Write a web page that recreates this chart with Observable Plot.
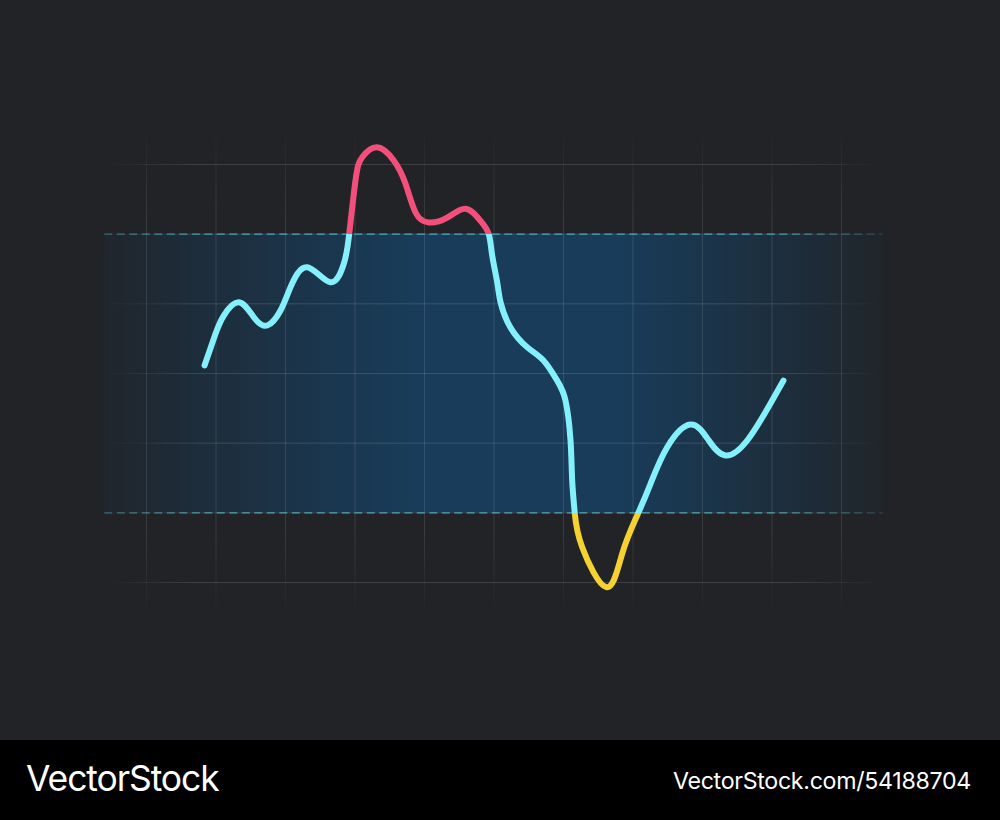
<!DOCTYPE html>
<html>
<head>
<meta charset="utf-8">
<script src="https://cdn.jsdelivr.net/npm/d3@7"></script>
<script src="https://cdn.jsdelivr.net/npm/@observablehq/plot@0.6"></script>
<style>
  html, body { margin: 0; padding: 0; background: #212326; }
  #chart svg { display: block; }
  #footer { width: 1000px; height: 80px; background: #000; position: relative; font-family: Inter, "Liberation Sans", sans-serif; color: #fff; }
  #footer .l { position: absolute; left: 26px; top: 17px; font-size: 35.5px; letter-spacing: -1.1px; }
  #footer .r { position: absolute; right: 29px; top: 27px; font-size: 23.2px; letter-spacing: -0.3px; }
</style>
</head>
<body>
<div id="chart"></div>
<div id="footer"><span class="l">VectorStock</span><span class="r">VectorStock.com/54188704</span></div>
<script>
// ---- data ----
const lineX = [0.835, 0.993, 1.112, 1.328, 1.544, 1.737, 1.928, 2.072, 2.312, 2.647, 2.839, 2.911, 3.007, 3.104, 3.319, 3.558, 3.727, 3.871, 4.062, 4.327, 4.590, 4.806, 4.925, 4.974, 5.046, 5.094, 5.237, 5.482, 5.712, 5.909, 6.029, 6.101, 6.125, 6.163, 6.269, 6.614, 6.845, 7.060, 7.252, 7.492, 7.827, 8.091, 8.331, 8.643, 8.978, 9.165];
const lineY = [3.115, 3.570, 3.832, 4.023, 3.808, 3.689, 3.904, 4.239, 4.526, 4.310, 4.575, 4.956, 5.770, 6.105, 6.248, 6.057, 5.723, 5.311, 5.167, 5.238, 5.364, 5.191, 5.000, 4.694, 4.310, 4.023, 3.660, 3.373, 3.186, 2.899, 2.612, 2.038, 1.464, 0.986, 0.507, -0.067, 0.416, 0.962, 1.417, 1.942, 2.268, 2.038, 1.823, 2.038, 2.569, 2.899];
const gridX = [0, 1, 2, 3, 4, 5, 6, 7, 8, 9, 10];
const gridY = [0, 1, 2, 3, 4, 5, 6];
const band = [1, 5];           // normal range (dashed limits)
const xExtent = [-0.6, 10.6];  // grid horizontal extent
const yExtent = [-0.48, 6.5];  // grid vertical extent

const points = lineX.map((x, i) => ({x, y: lineY[i]}));

const W = 1000, H = 740;
const plot = Plot.plot({
  width: W, height: H,
  margin: 0,
  style: {background: "#212326"},
  x: {domain: [0, 10], range: [146, 841], axis: null},
  y: {domain: [0, 6], range: [582, 164], axis: null},
  marks: [
    Plot.rect([band], {x1: xExtent[0], x2: xExtent[1], y1: d => d[0], y2: d => d[1], fill: "url(#bandgrad)"}),
    Plot.ruleY(gridY, {x1: xExtent[0], x2: xExtent[1], stroke: "url(#hfade)", strokeWidth: 1}),
    Plot.ruleX(gridX, {y1: yExtent[0], y2: yExtent[1], stroke: "url(#vfade)", strokeWidth: 1}),
    Plot.ruleY(band, {x1: xExtent[0], x2: xExtent[1], stroke: "url(#dashfade)", strokeWidth: 1.3, strokeDasharray: "8,4.5"}),
    Plot.line(points, {x: "x", y: "y", curve: "natural", stroke: "url(#linegrad)", strokeWidth: 6, strokeLinecap: "round", strokeLinejoin: "round"})
  ]
});

const sx = plot.scale("x"), sy = plot.scale("y");
const svg = d3.select(plot);
const defs = svg.insert("defs", ":first-child");

function hgrad(id, x1, x2, stops) {
  const g = defs.append("linearGradient").attr("id", id).attr("gradientUnits", "userSpaceOnUse")
    .attr("x1", x1).attr("x2", x2).attr("y1", 0).attr("y2", 0);
  stops.forEach(([o, c, a]) => g.append("stop").attr("offset", o).attr("stop-color", c).attr("stop-opacity", a));
}
function vgrad(id, y1, y2, stops) {
  const g = defs.append("linearGradient").attr("id", id).attr("gradientUnits", "userSpaceOnUse")
    .attr("x1", 0).attr("x2", 0).attr("y1", y1).attr("y2", y2);
  stops.forEach(([o, c, a]) => g.append("stop").attr("offset", o).attr("stop-color", c).attr("stop-opacity", a));
}
const X0 = sx.apply(xExtent[0]), X1 = sx.apply(xExtent[1]);
hgrad("bandgrad", X0, X1, [[0, "#183c5a", 0.12], [0.4, "#183c5a", 1], [0.66, "#183c5a", 1], [1, "#183c5a", 0.08]]);
hgrad("hfade", X0, X1, [[0, "#ffffff", 0], [0.12, "#ffffff", 0.13], [0.88, "#ffffff", 0.13], [1, "#ffffff", 0]]);
vgrad("vfade", sy.apply(yExtent[1]), sy.apply(yExtent[0]), [[0, "#ffffff", 0], [0.18, "#ffffff", 0.11], [0.82, "#ffffff", 0.11], [1, "#ffffff", 0]]);
hgrad("dashfade", X0, X1, [[0, "#53c0d0", 0.45], [0.15, "#53c0d0", 0.8], [0.85, "#53c0d0", 0.8], [1, "#53c0d0", 0.2]]);
const yTop = sy.apply(band[1]) / H, yBot = sy.apply(band[0]) / H;
vgrad("linegrad", 0, H, [[0, "#f24f7b", 1], [yTop, "#f24f7b", 1], [yTop, "#84f0fb", 1], [yBot, "#84f0fb", 1], [yBot, "#f5d132", 1], [1, "#f5d132", 1]]);

document.getElementById("chart").appendChild(plot);
</script>
</body>
</html>
